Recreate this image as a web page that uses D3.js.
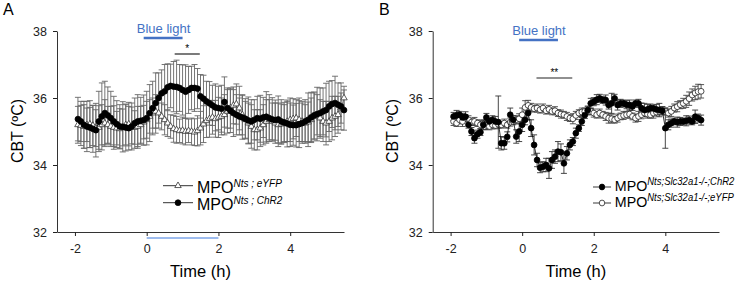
<!DOCTYPE html>
<html>
<head>
<meta charset="utf-8">
<script src="https://cdn.jsdelivr.net/npm/d3@7"></script>
<style>
body { margin: 0; background: #fff; }
svg { display: block; font-family: "Liberation Sans", Arial, sans-serif; }
</style>
</head>
<body>
<svg id="chart" width="735" height="281"></svg>
<script>
// time in minutes from light onset, 5 min bins
const timeA = [-115,-110,-105,-100,-95,-90,-85,-80,-75,-70,-65,-60,
  -55,-50,-45,-40,-35,-30,-25,-20,-15,-10,-5,0,
  5,10,15,20,25,30,35,40,45,50,55,60,
  65,70,75,80,85,90,95,100,105,110,115,120,
  125,130,135,140,145,150,155,160,165,170,175,180,
  185,190,195,200,205,210,215,220,225,230,235,240,
  245,250,255,260,265,270,275,280,285,290,295,300,
  305,310,315,320,325,330];

const chr2A = [35.37,35.30,35.20,35.15,35.12,35.08,35.04,35.30,35.45,35.55,35.48,35.40,
  35.30,35.22,35.15,35.14,35.12,35.10,35.15,35.25,35.30,35.32,35.34,35.40,
  35.55,35.70,35.85,36.00,36.14,36.20,36.32,36.36,36.34,36.33,36.30,36.24,
  36.19,36.24,36.30,36.30,36.28,36.05,35.98,35.90,35.84,35.78,35.72,35.70,
  35.68,35.88,35.70,35.62,35.55,35.50,35.45,35.42,35.38,35.33,35.30,35.35,
  35.40,35.38,35.42,35.44,35.40,35.36,35.34,35.36,35.30,35.27,35.24,35.20,
  35.19,35.19,35.22,35.25,35.30,35.35,35.42,35.48,35.52,35.55,35.60,35.64,
  35.75,35.82,35.85,35.80,35.75,35.64];
const chr2AErr = [0.65,0.60,0.70,0.75,0.60,0.70,0.80,0.90,1.00,0.95,0.85,0.80,
  0.75,0.70,0.65,0.75,0.70,0.65,0.70,0.75,0.80,0.70,0.75,0.80,
  0.85,0.80,0.90,0.75,0.70,0.80,0.70,0.65,0.75,0.80,0.70,0.75,
  0.80,0.70,0.65,0.70,0.60,0.65,0.70,0.60,0.65,0.60,0.70,0.65,
  0.70,0.75,0.60,0.65,0.70,0.60,0.55,0.65,0.60,0.70,0.65,0.60,
  0.65,0.70,0.60,0.75,0.70,0.65,0.60,0.70,0.65,0.60,0.70,0.65,
  0.60,0.65,0.70,0.60,0.65,0.80,0.75,0.70,0.80,0.75,0.70,0.80,
  0.75,0.70,0.80,0.65,0.70,0.60];

const eyfpA = [35.20,35.18,35.15,35.20,35.22,35.18,35.10,35.12,35.20,35.25,35.20,35.15,
  35.12,35.10,35.08,35.12,35.20,35.22,35.18,35.12,35.15,35.20,35.28,35.35,
  35.45,35.55,35.60,35.55,35.45,35.35,35.25,35.15,35.08,35.05,35.02,35.03,
  35.00,35.02,35.00,34.98,35.02,35.10,35.22,35.32,35.38,35.42,35.38,35.42,
  35.45,35.50,35.60,35.70,35.78,35.82,35.70,35.50,35.35,35.25,35.15,35.05,
  35.05,35.10,35.20,35.30,35.35,35.30,35.25,35.20,35.22,35.25,35.30,35.35,
  35.38,35.40,35.35,35.30,35.25,35.28,35.35,35.45,35.50,35.40,35.30,35.25,
  35.30,35.40,35.45,35.50,35.70,36.00];
const eyfpAErr = [0.55,0.60,0.65,0.50,0.70,0.60,0.55,0.65,0.60,0.70,0.55,0.60,
  0.65,0.50,0.60,0.55,0.60,0.65,0.55,0.50,0.60,0.55,0.50,0.55,
  0.50,0.45,0.50,0.45,0.40,0.45,0.40,0.35,0.40,0.40,0.35,0.40,
  0.40,0.35,0.40,0.40,0.45,0.50,0.55,0.50,0.55,0.50,0.55,0.60,
  0.55,0.60,0.65,0.60,0.55,0.60,0.65,0.60,0.55,0.60,0.65,0.60,
  0.60,0.55,0.60,0.65,0.60,0.55,0.60,0.65,0.60,0.55,0.60,0.65,
  0.60,0.55,0.65,0.60,0.55,0.60,0.65,0.70,0.60,0.55,0.60,0.65,
  0.60,0.65,0.60,0.55,0.45,0.35];

const timeB = [-115,-110,-105,-100,-95,-90,-85,-80,-75,-70,-65,-60,
  -55,-50,-45,-40,-35,-30,-25,-20,-15,-10,-5,0,
  5,10,15,20,25,30,35,40,45,50,55,60,
  65,70,75,80,85,90,95,100,105,110,115,120,
  125,130,135,140,145,150,155,160,165,170,175,180,
  185,190,195,200,205,210,215,220,225,230,235,240,
  245,250,255,260,265,270,275,280,285,290,295,300];

const chr2B = [35.45,35.48,35.50,35.42,35.44,35.20,35.00,34.80,34.92,34.98,35.20,35.42,
  35.30,35.35,35.30,35.28,34.65,34.65,34.84,35.50,35.35,34.85,35.00,35.20,
  35.35,35.55,35.10,34.60,34.15,33.92,33.95,34.00,33.90,34.15,34.25,34.40,
  34.38,34.05,34.35,34.60,34.70,34.95,35.10,35.30,35.49,35.64,35.84,35.89,
  35.95,35.99,35.94,35.94,35.79,35.84,35.99,35.79,35.84,35.84,35.80,35.79,
  35.75,35.84,35.84,35.70,35.64,35.66,35.70,35.69,35.66,35.64,35.62,35.10,
  35.20,35.25,35.30,35.28,35.30,35.30,35.32,35.34,35.30,35.44,35.40,35.34];
const chr2BErr = [0.12,0.15,0.10,0.12,0.15,0.10,0.12,0.15,0.12,0.10,0.15,0.12,
  0.10,0.12,0.15,0.78,0.20,0.18,0.15,0.20,0.12,0.20,0.30,0.20,
  0.15,0.20,0.25,0.30,0.20,0.15,0.15,0.20,0.30,0.25,0.20,0.30,
  0.25,0.30,0.20,0.15,0.12,0.15,0.10,0.12,0.10,0.12,0.15,0.12,
  0.15,0.12,0.10,0.15,0.12,0.30,0.12,0.15,0.12,0.10,0.12,0.15,
  0.12,0.10,0.12,0.15,0.20,0.15,0.12,0.10,0.15,0.20,0.12,0.60,
  0.15,0.12,0.10,0.15,0.12,0.10,0.15,0.12,0.10,0.20,0.12,0.15];

const eyfpB = [35.30,35.25,35.35,35.30,35.40,35.35,35.28,35.30,35.25,35.20,35.22,35.18,
  35.15,35.20,35.18,35.22,35.20,35.25,35.20,35.28,35.30,35.35,35.38,35.50,
  35.72,35.78,35.72,35.68,35.70,35.65,35.70,35.62,35.66,35.60,35.62,35.55,
  35.52,35.50,35.45,35.40,35.38,35.48,35.55,35.58,35.60,35.62,35.60,35.55,
  35.50,35.55,35.50,35.45,35.40,35.38,35.35,35.40,35.45,35.48,35.50,35.52,
  35.45,35.40,35.45,35.50,35.55,35.52,35.50,35.55,35.58,35.60,35.62,35.60,
  35.55,35.60,35.70,35.74,35.80,35.84,35.90,35.98,36.09,36.15,36.19,36.20];
const eyfpBErr = [0.12,0.10,0.12,0.15,0.10,0.12,0.10,0.12,0.10,0.12,0.10,0.12,
  0.10,0.12,0.10,0.12,0.10,0.12,0.10,0.12,0.10,0.12,0.15,0.20,
  0.20,0.15,0.12,0.10,0.12,0.10,0.12,0.10,0.12,0.10,0.12,0.10,
  0.12,0.10,0.12,0.10,0.15,0.12,0.10,0.12,0.10,0.12,0.10,0.12,
  0.10,0.12,0.10,0.12,0.15,0.12,0.10,0.12,0.10,0.12,0.10,0.12,
  0.10,0.12,0.15,0.12,0.10,0.12,0.10,0.15,0.12,0.10,0.12,0.10,
  0.12,0.15,0.12,0.15,0.12,0.15,0.18,0.20,0.18,0.20,0.22,0.20];

const xTicks = [-2, 0, 2, 4],
  yTicks = [32, 34, 36, 38],
  lightOn = [0, 1],        // blue light period (h)
  lightA = [0, 2],         // light bar under axis, panel A
  sigA = [0.78, 1.48],
  sigB = [0.4, 1.4];

const svg = d3.select('#chart');
const blue = '#4472c4';

function toSeries(times, vals, errs) {
  return times.map((t, i) => ({t: t / 60, v: vals[i], e: errs[i]}));
}

function marker(sel, kind) {
  if (kind === 'tri') {
    sel.append('path')
      .attr('d', d3.symbol(d3.symbolTriangle, 18))
      .attr('fill', '#fff').attr('stroke', '#333').attr('stroke-width', 0.8);
  } else {
    sel.append('circle')
      .attr('r', 2.9)
      .attr('fill', kind === 'open' ? '#fff' : '#000')
      .attr('stroke', kind === 'open' ? '#222' : '#000')
      .attr('stroke-width', 0.8);
  }
}

function panel(cfg) {
  let x = d3.scaleLinear().domain([-2.5, 5.5]).range([cfg.x0, cfg.x1]),
    y = d3.scaleLinear().domain([32, 38]).range([232, 31]);
  let g = svg.append('g');
  let fmt = d => (d < 0 ? '-' + Math.abs(d) : '' + d);

  let xAxis = g.append('g')
    .attr('transform', 'translate(0,232)')
    .call(d3.axisBottom(x).tickValues(xTicks).tickSize(4).tickPadding(8).tickSizeOuter(0).tickFormat(fmt));
  let yAxis = g.append('g')
    .attr('transform', `translate(${cfg.x0},0)`)
    .call(d3.axisLeft(y).tickValues(yTicks).tickSize(4).tickPadding(6).tickSizeOuter(0).tickFormat(d3.format('d')));
  [xAxis, yAxis].forEach(a => {
    a.attr('font-family', null).attr('font-size', 12.5).attr('color', '#222');
    a.select('.domain').attr('stroke', '#333');
  });

  g.append('text')
    .attr('transform', `translate(${cfg.ylabX},131) rotate(-90)`)
    .attr('text-anchor', 'middle')
    .attr('font-size', 16)
    .text('CBT (ºC)');
  g.append('text')
    .attr('x', (cfg.x0 + cfg.x1) / 2).attr('y', 277)
    .attr('text-anchor', 'middle')
    .attr('font-size', 16.5)
    .text('Time (h)');
  g.append('text')
    .attr('x', cfg.panelX).attr('y', 15)
    .attr('font-size', 16)
    .text(cfg.letter);

  // blue light annotation
  g.append('text')
    .attr('x', x(0.47)).attr('y', cfg.blueY)
    .attr('text-anchor', 'middle')
    .attr('font-size', 13)
    .attr('fill', blue)
    .text('Blue light');
  g.append('line')
    .attr('x1', x(lightOn[0]) - 3).attr('x2', x(lightOn[1]))
    .attr('y1', cfg.blueY + 5).attr('y2', cfg.blueY + 5)
    .attr('stroke', blue).attr('stroke-width', 2.5);
  if (cfg.underBar) {
    g.append('line')
      .attr('x1', x(cfg.underBar[0])).attr('x2', x(cfg.underBar[1]))
      .attr('y1', 238).attr('y2', 238)
      .attr('stroke', '#7ea6e8').attr('stroke-width', 1.5);
  }

  // significance
  g.append('line')
    .attr('x1', x(cfg.sig[0])).attr('x2', x(cfg.sig[1]))
    .attr('y1', cfg.sigY).attr('y2', cfg.sigY)
    .attr('stroke', '#222').attr('stroke-width', 1.2);
  g.append('text')
    .attr('x', x((cfg.sig[0] + cfg.sig[1]) / 2)).attr('y', cfg.sigY - 2)
    .attr('text-anchor', 'middle')
    .attr('font-size', 10)
    .text(cfg.sigText);

  // series: error bars, line, markers
  cfg.series.forEach(s => {
    let eb = g.append('g').selectAll('g').data(s.data).join('g')
      .attr('stroke', s.errColor).attr('stroke-width', 0.9);
    eb.append('line')
      .attr('x1', d => x(d.t)).attr('x2', d => x(d.t))
      .attr('y1', d => y(d.v - d.e)).attr('y2', d => y(d.v + d.e));
    eb.append('line')
      .attr('x1', d => x(d.t) - 3).attr('x2', d => x(d.t) + 3)
      .attr('y1', d => y(d.v + d.e)).attr('y2', d => y(d.v + d.e));
    eb.append('line')
      .attr('x1', d => x(d.t) - 3).attr('x2', d => x(d.t) + 3)
      .attr('y1', d => y(d.v - d.e)).attr('y2', d => y(d.v - d.e));
  });
  cfg.series.forEach(s => {
    g.append('path')
      .datum(s.data)
      .attr('fill', 'none').attr('stroke', s.lineColor).attr('stroke-width', 0.8)
      .attr('d', d3.line().x(d => x(d.t)).y(d => y(d.v)));
    let m = g.append('g').selectAll('g').data(s.data).join('g')
      .attr('transform', d => `translate(${x(d.t)},${y(d.v)})`);
    marker(m, s.kind);
  });

  // legend
  let lg = g.append('g').attr('transform', `translate(${cfg.legend.x},0) scale(${cfg.legend.sx},1)`);
  cfg.legend.rows.forEach(r => {
    lg.append('line')
      .attr('x1', 0).attr('x2', r.len).attr('y1', r.y).attr('y2', r.y)
      .attr('stroke', '#333').attr('stroke-width', 1);
    let m = lg.append('g').attr('transform', `translate(${r.len / 2},${r.y})`);
    marker(m, r.kind);
    let t = lg.append('text')
      .attr('x', r.len + 4).attr('y', r.y + cfg.legend.dy)
      .attr('font-size', cfg.legend.fs)
      .text('MPO');
    t.append('tspan')
      .attr('dy', -6)
      .attr('font-size', cfg.legend.fs2)
      .attr('font-style', 'italic')
      .text(r.sup);
  });
}

panel({
  letter: 'A', panelX: 3, x0: 57, x1: 344, ylabX: 23,
  blueY: 33, sigY: 54, sig: sigA, sigText: '*', underBar: lightA,
  series: [
    {data: toSeries(timeA, eyfpA, eyfpAErr), kind: 'tri', errColor: '#666', lineColor: '#666'},
    {data: toSeries(timeA, chr2A, chr2AErr), kind: 'filled', errColor: '#666', lineColor: '#000'}
  ],
  legend: {x: 163, sx: 1, dy: 7, fs: 16, fs2: 10, rows: [
    {y: 185.7, kind: 'tri', len: 30, sup: 'Nts ; eYFP'},
    {y: 202.7, kind: 'filled', len: 30, sup: 'Nts ; ChR2'}
  ]}
});

panel({
  letter: 'B', panelX: 379, x0: 432.7, x1: 719, ylabX: 398,
  blueY: 35, sigY: 78, sig: sigB, sigText: '**',
  series: [
    {data: toSeries(timeB, eyfpB, eyfpBErr), kind: 'open', errColor: '#444', lineColor: '#444'},
    {data: toSeries(timeB, chr2B, chr2BErr), kind: 'filled', errColor: '#333', lineColor: '#000'}
  ],
  legend: {x: 593, sx: 0.95, dy: 4.5, fs: 15, fs2: 10, rows: [
    {y: 187, kind: 'filled', len: 19, sup: 'Nts;Slc32a1-/-;ChR2'},
    {y: 203, kind: 'open', len: 19, sup: 'Nts;Slc32a1-/-;eYFP'}
  ]}
});
</script>
</body>
</html>
